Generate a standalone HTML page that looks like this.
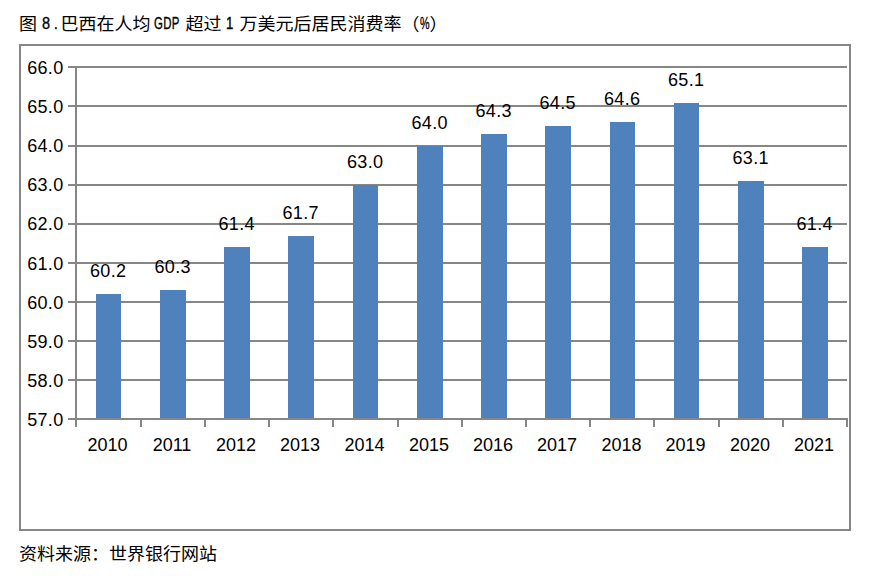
<!DOCTYPE html>
<html lang="zh-CN">
<head>
<meta charset="utf-8">
<title>图 8</title>
<style>
html,body{margin:0;padding:0;background:#fff;}
body{position:relative;width:870px;height:576px;overflow:hidden;color:#000;
 font-family:"Liberation Sans","Noto Sans CJK SC",sans-serif;}
.a{position:absolute;}
.g{position:absolute;background:#868686;}
.b{position:absolute;background:#4F81BD;}
.n{position:absolute;font-size:18px;line-height:20px;height:20px;white-space:nowrap;color:#000;}
.yl{width:50px;text-align:right;letter-spacing:0.33px;}
.d{letter-spacing:0.33px;}
.c{width:80px;text-align:center;}
.t{position:absolute;font-size:18px;transform:scaleY(0.94);transform-origin:0 19px;line-height:24px;height:24px;white-space:nowrap;color:#000;}
.t span{position:absolute;top:0;white-space:nowrap;}
.lat{letter-spacing:0;font-family:"Liberation Sans",sans-serif;font-size:16.5px;transform-origin:0 50%;display:inline-block;-webkit-text-stroke:0.35px #000;}
</style>
</head>
<body>

<div class="a" style="left:19px;top:44px;width:828px;height:483px;border:2px solid #868686;"></div>
<div class="g" style="left:68px;top:66px;width:779px;height:2px;"></div>
<div class="g" style="left:68px;top:105px;width:779px;height:2px;"></div>
<div class="g" style="left:68px;top:145px;width:779px;height:2px;"></div>
<div class="g" style="left:68px;top:184px;width:779px;height:2px;"></div>
<div class="g" style="left:68px;top:223px;width:779px;height:2px;"></div>
<div class="g" style="left:68px;top:262px;width:779px;height:2px;"></div>
<div class="g" style="left:68px;top:301px;width:779px;height:2px;"></div>
<div class="g" style="left:68px;top:340px;width:779px;height:2px;"></div>
<div class="g" style="left:68px;top:379px;width:779px;height:2px;"></div>
<div class="b" style="left:96px;top:294px;width:25px;height:124px;"></div>
<div class="b" style="left:160px;top:290px;width:26px;height:128px;"></div>
<div class="b" style="left:224px;top:247px;width:26px;height:171px;"></div>
<div class="b" style="left:288px;top:236px;width:26px;height:182px;"></div>
<div class="b" style="left:353px;top:185px;width:25px;height:233px;"></div>
<div class="b" style="left:417px;top:146px;width:26px;height:272px;"></div>
<div class="b" style="left:481px;top:134px;width:26px;height:284px;"></div>
<div class="b" style="left:545px;top:126px;width:26px;height:292px;"></div>
<div class="b" style="left:610px;top:122px;width:25px;height:296px;"></div>
<div class="b" style="left:674px;top:103px;width:25px;height:315px;"></div>
<div class="b" style="left:738px;top:181px;width:26px;height:237px;"></div>
<div class="b" style="left:802px;top:247px;width:26px;height:171px;"></div>
<div class="g" style="left:68px;top:418px;width:780px;height:2px;"></div>
<div class="g" style="left:75px;top:66px;width:2px;height:354px;"></div>
<div class="g" style="left:75px;top:418px;width:2px;height:9px;"></div>
<div class="g" style="left:140px;top:418px;width:2px;height:9px;"></div>
<div class="g" style="left:204px;top:418px;width:2px;height:9px;"></div>
<div class="g" style="left:268px;top:418px;width:2px;height:9px;"></div>
<div class="g" style="left:332px;top:418px;width:2px;height:9px;"></div>
<div class="g" style="left:397px;top:418px;width:2px;height:9px;"></div>
<div class="g" style="left:461px;top:418px;width:2px;height:9px;"></div>
<div class="g" style="left:525px;top:418px;width:2px;height:9px;"></div>
<div class="g" style="left:589px;top:418px;width:2px;height:9px;"></div>
<div class="g" style="left:653px;top:418px;width:2px;height:9px;"></div>
<div class="g" style="left:718px;top:418px;width:2px;height:9px;"></div>
<div class="g" style="left:782px;top:418px;width:2px;height:9px;"></div>
<div class="g" style="left:846px;top:418px;width:2px;height:9px;"></div>
<div class="n yl" style="left:13.5px;top:57.9px;">66.0</div>
<div class="n yl" style="left:13.5px;top:97.0px;">65.0</div>
<div class="n yl" style="left:13.5px;top:136.1px;">64.0</div>
<div class="n yl" style="left:13.5px;top:175.2px;">63.0</div>
<div class="n yl" style="left:13.5px;top:214.3px;">62.0</div>
<div class="n yl" style="left:13.5px;top:253.5px;">61.0</div>
<div class="n yl" style="left:13.5px;top:292.6px;">60.0</div>
<div class="n yl" style="left:13.5px;top:331.7px;">59.0</div>
<div class="n yl" style="left:13.5px;top:370.8px;">58.0</div>
<div class="n yl" style="left:13.5px;top:409.9px;">57.0</div>
<div class="n c" style="left:67.5px;top:434.5px;">2010</div>
<div class="n c" style="left:132.0px;top:434.5px;">2011</div>
<div class="n c" style="left:196.0px;top:434.5px;">2012</div>
<div class="n c" style="left:260.0px;top:434.5px;">2013</div>
<div class="n c" style="left:324.5px;top:434.5px;">2014</div>
<div class="n c" style="left:389.0px;top:434.5px;">2015</div>
<div class="n c" style="left:453.0px;top:434.5px;">2016</div>
<div class="n c" style="left:517.0px;top:434.5px;">2017</div>
<div class="n c" style="left:581.5px;top:434.5px;">2018</div>
<div class="n c" style="left:645.5px;top:434.5px;">2019</div>
<div class="n c" style="left:710.0px;top:434.5px;">2020</div>
<div class="n c" style="left:774.0px;top:434.5px;">2021</div>
<div class="n c d" style="left:68.2px;top:261.2px;">60.2</div>
<div class="n c d" style="left:132.7px;top:257.3px;">60.3</div>
<div class="n c d" style="left:196.7px;top:214.3px;">61.4</div>
<div class="n c d" style="left:260.7px;top:202.6px;">61.7</div>
<div class="n c d" style="left:325.2px;top:151.7px;">63.0</div>
<div class="n c d" style="left:389.7px;top:112.6px;">64.0</div>
<div class="n c d" style="left:453.7px;top:100.9px;">64.3</div>
<div class="n c d" style="left:517.7px;top:93.1px;">64.5</div>
<div class="n c d" style="left:582.2px;top:89.2px;">64.6</div>
<div class="n c d" style="left:646.2px;top:69.6px;">65.1</div>
<div class="n c d" style="left:710.7px;top:147.8px;">63.1</div>
<div class="n c d" style="left:774.7px;top:214.3px;">61.4</div>
<div class="t" style="left:0;top:12px;width:870px;">
<span style="left:19px;">图</span>
<span class="lat" style="top:-2px;left:41.6px;transform:scale(0.88,1.064);">8</span>
<span class="lat" style="top:-2px;left:53.5px;transform:scale(0.8,1.064);">.</span>
<span style="left:60.5px;">巴西在人均</span>
<span class="lat" style="top:-2px;left:154.1px;letter-spacing:0.5px;transform:scale(0.69,1.064);">GDP</span>
<span style="left:185.5px;">超过</span>
<span class="lat" style="top:-2px;left:225.5px;transform:scale(0.8,1.064);">1</span>
<span style="left:239.5px;">万美元后居民消费率</span>
<span style="left:401.5px;top:1px;">（</span>
<span class="lat" style="top:-2px;left:419.5px;transform:scale(0.654,1.064);">%</span>
<span style="left:429.5px;top:1px;">）</span>
</div>
<div class="t" style="left:19px;top:542px;">资料来源：世界银行网站</div>
</body>
</html>
